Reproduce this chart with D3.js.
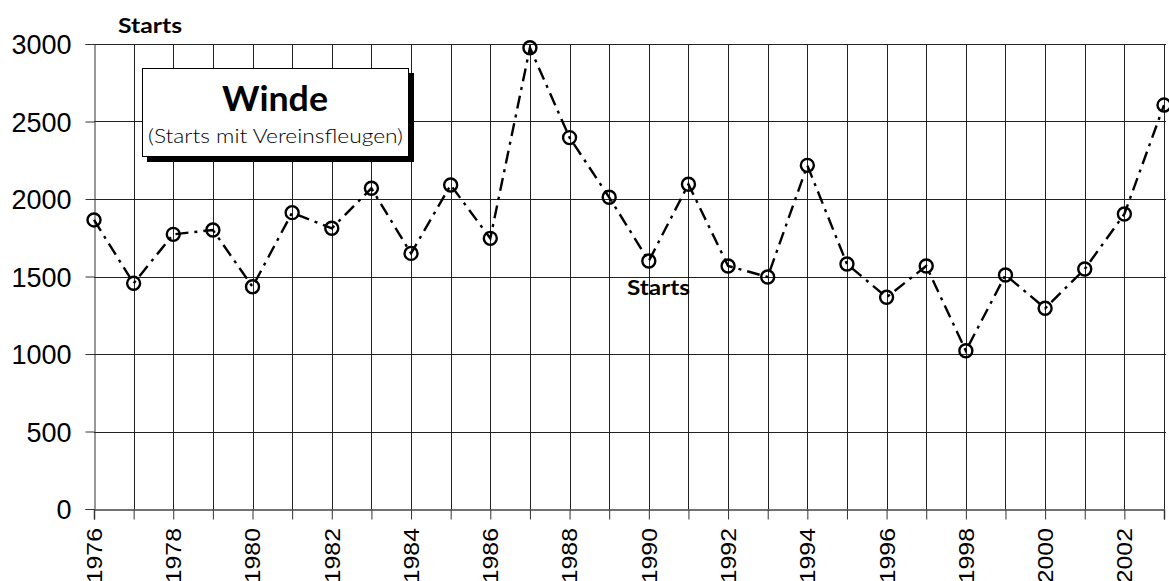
<!DOCTYPE html>
<html>
<head>
<meta charset="utf-8">
<script src="https://cdn.jsdelivr.net/npm/d3@7"></script>
<style>
  html, body { margin: 0; padding: 0; background: #fff; }
  svg { display: block; }
  .axis text { font-family: "Liberation Sans", Arial, sans-serif; fill: #000; }
  .label { font-family: Lato, "Noto Sans", sans-serif; fill: #000; }
</style>
</head>
<body>
<div id="chart"></div>
<script>
(function() {
'use strict';

var years = [1976, 1977, 1978, 1979, 1980, 1981, 1982, 1983, 1984, 1985,
             1986, 1987, 1988, 1989, 1990, 1991, 1992, 1993, 1994, 1995,
             1996, 1997, 1998, 1999, 2000, 2001, 2002, 2003];
var starts = [1865, 1456, 1772, 1800, 1434, 1912, 1811, 2069, 1649, 2090,
              1746, 2976, 2396, 2011, 1600, 2095, 1568, 1497, 2217, 1581,
              1366, 1568, 1021, 1510, 1295, 1548, 1903, 2606];
var yTicks = [0, 500, 1000, 1500, 2000, 2500, 3000];
var xLabels = years.filter(function (y) { return y % 2 === 0 && y < 2003; });

var width = 1169, height = 581;
var x0 = 94, x1 = 1164, yTop = 44, yBot = 509;

var svg = d3.select('#chart').append('svg')
    .attr('width', width).attr('height', height);

var x = d3.scaleLinear().domain([1976, 2003]).range([x0, x1]);
var y = d3.scaleLinear().domain([0, 3000]).range([yBot, yTop]);

// grid
svg.append('g').selectAll('line')
    .data(years.slice(1)).enter().append('line')
    .attr('x1', function (d) { return Math.round(x(d)) + 0.5; })
    .attr('x2', function (d) { return Math.round(x(d)) + 0.5; })
    .attr('y1', yTop).attr('y2', yBot)
    .attr('stroke', '#222').attr('stroke-width', 1);

svg.append('g').selectAll('line')
    .data(yTicks.slice(1)).enter().append('line')
    .attr('x1', x0).attr('x2', x1 + 2)
    .attr('y1', function (d) { return Math.round(y(d)) + 0.5; })
    .attr('y2', function (d) { return Math.round(y(d)) + 0.5; })
    .attr('stroke', '#222').attr('stroke-width', 1);

// axes
var yAxis = d3.axisLeft(y).tickValues(yTicks).tickSize(9).tickPadding(14)
    .tickFormat(d3.format('d'));
svg.append('g').attr('class', 'axis')
    .attr('transform', 'translate(' + (x0 + 0.5) + ',0)')
    .call(yAxis)
    .call(function (g) {
        g.select('.domain').attr('stroke', '#333');
        g.selectAll('.tick line').attr('stroke', '#333');
        g.selectAll('text').style('font-size', '27px').attr('dy', '0.36em');
    });

var xAxis = d3.axisBottom(x).tickValues(years).tickSize(10).tickFormat('');
svg.append('g').attr('class', 'axis')
    .attr('transform', 'translate(0,' + (yBot + 0.5) + ')')
    .call(xAxis)
    .call(function (g) {
        g.select('.domain').attr('stroke', '#444').attr('stroke-width', 1.5);
        g.selectAll('.tick line').attr('stroke', '#333');
    });

// year labels, slightly stretched along their length as in the original;
// they run off the bottom edge there too
svg.append('g').attr('class', 'axis').selectAll('text')
    .data(xLabels).enter().append('text')
    .attr('transform', function (d) {
        return 'translate(' + x(d) + ',528) rotate(-90) scale(1.13,1)';
    })
    .attr('text-anchor', 'end')
    .attr('dy', '0.36em')
    .style('font-size', '22px')
    .text(function (d) { return d; });

// series
var line = d3.line()
    .x(function (d, i) { return x(years[i]); })
    .y(function (d) { return y(d); });

svg.append('path')
    .datum(starts)
    .attr('d', line)
    .attr('fill', 'none')
    .attr('stroke', '#000')
    .attr('stroke-width', 2.4)
    .attr('stroke-dasharray', '13,6,3,6');

svg.append('g').selectAll('circle')
    .data(starts).enter().append('circle')
    .attr('cx', function (d, i) { return x(years[i]); })
    .attr('cy', function (d) { return y(d); })
    .attr('r', 6.5)
    .attr('fill', 'none')
    .attr('stroke', '#000')
    .attr('stroke-width', 2.4);

// titles
svg.append('text').attr('class', 'label')
    .attr('x', 118).attr('y', 33)
    .attr('textLength', 64).attr('lengthAdjust', 'spacingAndGlyphs')
    .style('font-weight', 'bold').style('font-size', '21px')
    .text('Starts');

svg.append('text').attr('class', 'label')
    .attr('x', 627).attr('y', 295)
    .attr('textLength', 63).attr('lengthAdjust', 'spacingAndGlyphs')
    .style('font-weight', 'bold').style('font-size', '21px')
    .text('Starts');

// legend box with shadow
var box = svg.append('g');
box.append('rect')
    .attr('x', 147).attr('y', 73).attr('width', 267).attr('height', 89)
    .attr('fill', '#000');
box.append('rect')
    .attr('x', 142.5).attr('y', 68.5).attr('width', 266).attr('height', 88)
    .attr('fill', '#fff').attr('stroke', '#000').attr('stroke-width', 1);
box.append('text').attr('class', 'label')
    .attr('x', 222).attr('y', 111)
    .attr('textLength', 106).attr('lengthAdjust', 'spacingAndGlyphs')
    .style('font-weight', 'bold').style('font-size', '35px')
    .text('Winde');
box.append('text').attr('class', 'label')
    .attr('x', 148).attr('y', 143)
    .attr('textLength', 255).attr('lengthAdjust', 'spacingAndGlyphs')
    .style('font-weight', '300').style('font-size', '20px')
    .text('(Starts mit Vereinsfleugen)');

})();
</script>
</body>
</html>
